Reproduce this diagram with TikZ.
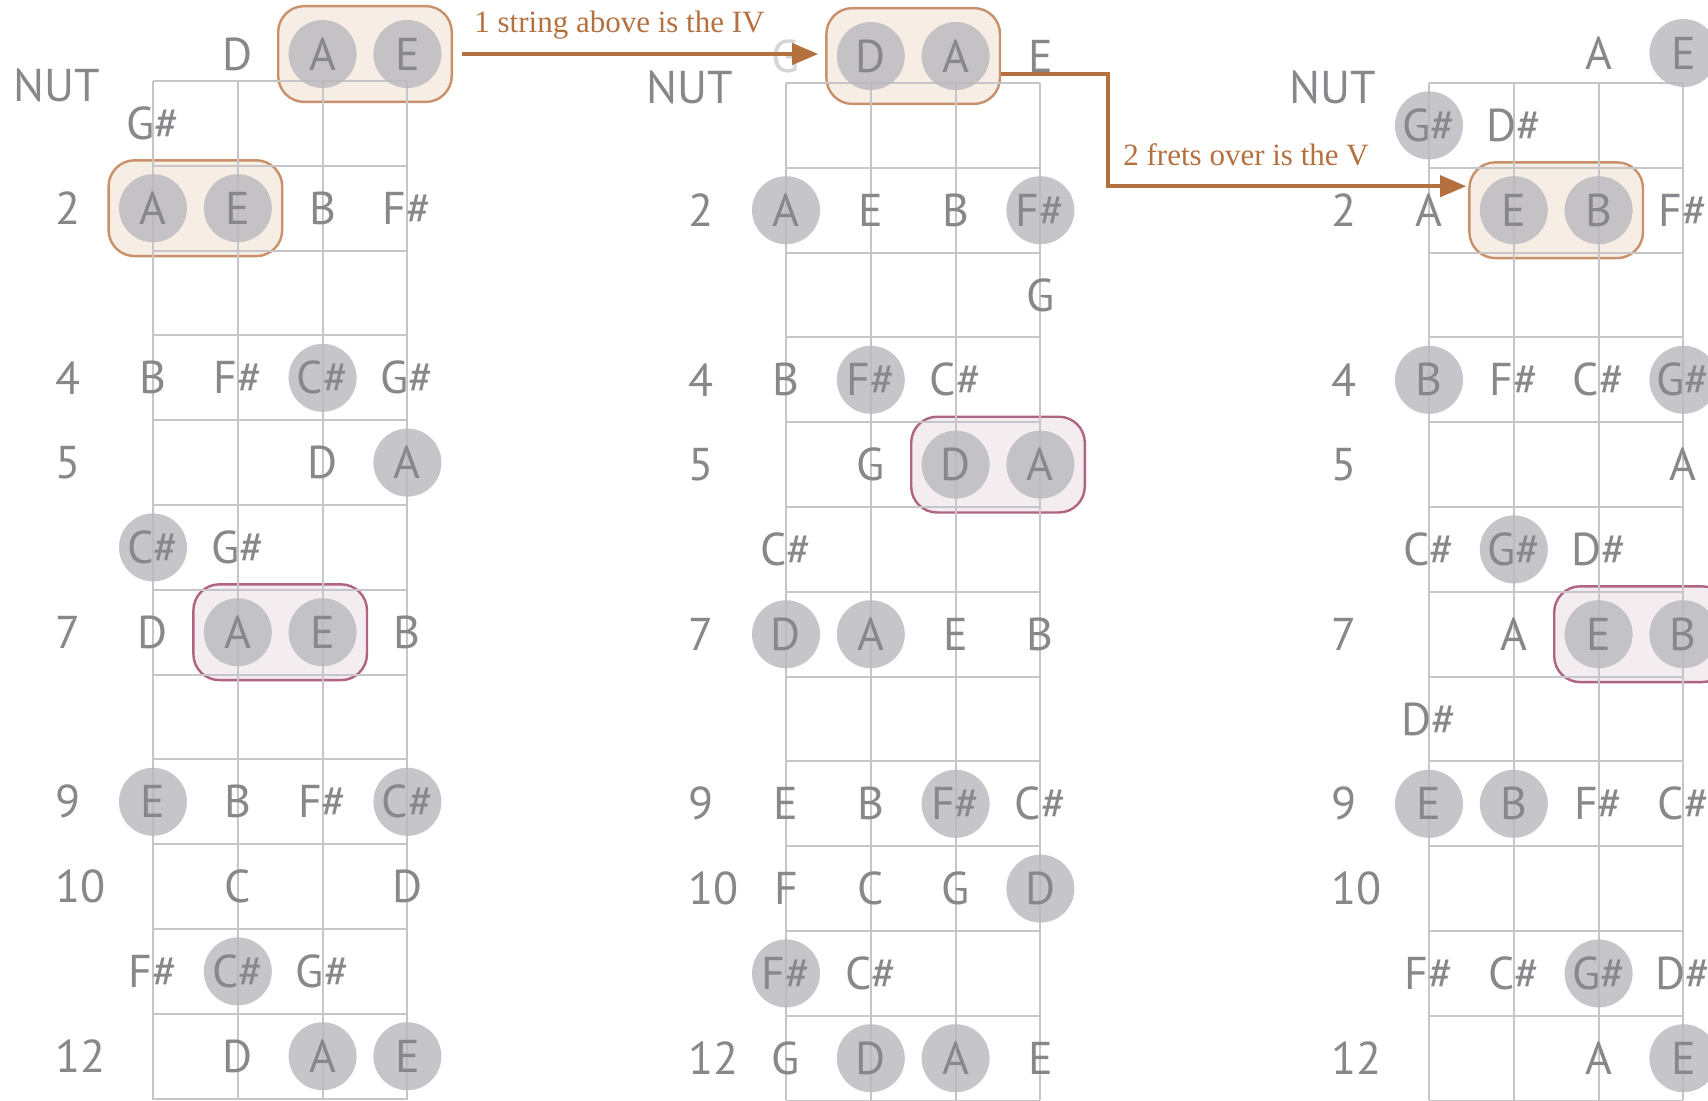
\documentclass[tikz,border=0pt]{standalone}
\usepackage{fontspec}
\newfontfamily\notefont{PT Sans}
\newfontfamily\hopfont{Liberation Serif}
\usetikzlibrary{arrows.meta, positioning, calc, fit, backgrounds}
\definecolor{fbInk}{HTML}{88888C}
\definecolor{fbDot}{HTML}{B8B8BD}
\definecolor{fbGrid}{HTML}{C6C6CA}
\definecolor{fbRust}{HTML}{B5703F}
\definecolor{fbTanLine}{HTML}{C8916B}
\definecolor{fbTanFill}{HTML}{F6EDE5}
\definecolor{fbPlumLine}{HTML}{AF6483}
\definecolor{fbPlumFill}{HTML}{F3EDEF}

\tikzset{
  fretline/.style={draw=fbGrid, line width=1pt},
  note/.style={circle, minimum size=34pt, inner sep=0pt, text=fbInk,
    font=\notefont\fontsize{23}{25}\selectfont},
  hit/.style={fill=fbDot, fill opacity=0.8, text opacity=1},
  nohit/.style={},
  ghost/.style={text=fbInk!35},
  fretnum/.style={anchor=west, inner sep=0pt, text=fbInk,
    font=\notefont\fontsize{23}{25}\selectfont},
  tanbox/.style={draw=fbTanLine, fill=fbTanFill, line width=1.2pt,
    rounded corners=13pt, inner xsep=5pt, inner ysep=6.75pt},
  plumbox/.style={tanbox, draw=fbPlumLine, fill=fbPlumFill},
  hop/.style={draw=fbRust, line width=2pt, -{Triangle[length=13pt, width=10.5pt]}},
  hoplabel/.style={anchor=base west, inner sep=0pt, text=fbRust,
    font=\hopfont\fontsize{15.5}{18}\selectfont}
}

\begin{document}
\begin{tikzpicture}[x=0.5pt, y=-0.5pt]
  \useasboundingbox (0,0) rectangle (1708,1100);
  \clip (0,0) rectangle (1708,1100);

  % fretboards: strings, frets, fret numbers
  \foreach \b/\xo/\yo in {L/153/81, M/786/83, R/1429/83} {
    \foreach \k in {0,...,12}
      \draw[fretline] (\xo, \yo+84.8*\k) -- (\xo+254.4, \yo+84.8*\k);
    \foreach \sg in {0,...,3}
      \draw[fretline] (\xo+84.8*\sg, \yo) -- (\xo+84.8*\sg, 1100);
    \node[fretnum] (\b-nut) at (\xo-140, \yo+4) {NUT};
    \foreach \fr in {2,4,5,7,9,10,12}
      \node[fretnum] (\b-fret\fr) at (\xo-98, \yo+84.8*\fr-42.4) {\fr};
  }

  % A major
  \foreach \sg/\fr/\nt/\st in {
      2/0/D/nohit, 3/0/A/hit, 4/0/E/hit, 1/1/G\#/nohit,
      1/2/A/hit, 2/2/E/hit, 3/2/B/nohit, 4/2/F\#/nohit,
      1/4/B/nohit, 2/4/F\#/nohit, 3/4/C\#/hit, 4/4/G\#/nohit,
      3/5/D/nohit, 4/5/A/hit, 1/6/C\#/hit, 2/6/G\#/nohit,
      1/7/D/nohit, 2/7/A/hit, 3/7/E/hit, 4/7/B/nohit,
      1/9/E/hit, 2/9/B/nohit, 3/9/F\#/nohit, 4/9/C\#/hit,
      2/10/C/nohit, 4/10/D/nohit,
      1/11/F\#/nohit, 2/11/C\#/hit, 3/11/G\#/nohit,
      2/12/D/nohit, 3/12/A/hit, 4/12/E/hit} {
    \pgfmathsetmacro\ny{\fr==0 ? 54 : 81+84.8*(\fr-0.5)}
    \node[note, \st] (L-\sg-\fr) at (68.2+84.8*\sg, \ny) {\nt};
  }

  % D major
  \foreach \sg/\fr/\nt/\st in {
      1/0/G/ghost, 2/0/D/hit, 3/0/A/hit, 4/0/E/nohit,
      1/2/A/hit, 2/2/E/nohit, 3/2/B/nohit, 4/2/F\#/hit, 4/3/G/nohit,
      1/4/B/nohit, 2/4/F\#/hit, 3/4/C\#/nohit,
      2/5/G/nohit, 3/5/D/hit, 4/5/A/hit, 1/6/C\#/nohit,
      1/7/D/hit, 2/7/A/hit, 3/7/E/nohit, 4/7/B/nohit,
      1/9/E/nohit, 2/9/B/nohit, 3/9/F\#/hit, 4/9/C\#/nohit,
      1/10/F/nohit, 2/10/C/nohit, 3/10/G/nohit, 4/10/D/hit,
      1/11/F\#/hit, 2/11/C\#/nohit,
      1/12/G/nohit, 2/12/D/hit, 3/12/A/hit, 4/12/E/nohit} {
    \pgfmathsetmacro\ny{\fr==0 ? 56 : 83+84.8*(\fr-0.5)}
    \node[note, \st] (M-\sg-\fr) at (701.2+84.8*\sg, \ny) {\nt};
  }

  % E major
  \foreach \sg/\fr/\nt/\st in {
      3/0/A/nohit, 4/0/E/hit, 1/1/G\#/hit, 2/1/D\#/nohit,
      1/2/A/nohit, 2/2/E/hit, 3/2/B/hit, 4/2/F\#/nohit,
      1/4/B/hit, 2/4/F\#/nohit, 3/4/C\#/nohit, 4/4/G\#/hit, 4/5/A/nohit,
      1/6/C\#/nohit, 2/6/G\#/hit, 3/6/D\#/nohit,
      2/7/A/nohit, 3/7/E/hit, 4/7/B/hit, 1/8/D\#/nohit,
      1/9/E/hit, 2/9/B/hit, 3/9/F\#/nohit, 4/9/C\#/nohit,
      1/11/F\#/nohit, 2/11/C\#/nohit, 3/11/G\#/hit, 4/11/D\#/nohit,
      3/12/A/nohit, 4/12/E/hit} {
    \pgfmathsetmacro\ny{\fr==0 ? 53 : 83+84.8*(\fr-0.5)}
    \node[note, \st] (R-\sg-\fr) at (1344.2+84.8*\sg, \ny) {\nt};
  }

  % shapes that repeat up a string / over a fret
  \begin{scope}[on background layer]
    \clip (0,0) rectangle (1708,1100);
    \node[tanbox, fit=(L-3-0)(L-4-0)] (L-open) {};
    \node[tanbox, fit=(L-1-2)(L-2-2)] (L-two) {};
    \node[plumbox, fit=(L-2-7)(L-3-7)] (L-seven) {};
    \node[tanbox, fit=(M-2-0)(M-3-0)] (M-open) {};
    \node[plumbox, fit=(M-3-5)(M-4-5)] (M-five) {};
    \node[tanbox, fit=(R-2-2)(R-3-2)] (R-two) {};
    \node[plumbox, fit=(R-3-7)(R-4-7)] (R-seven) {};
  \end{scope}

  \draw[hop] ([xshift=4.5pt]L-open.east) -- ($(M-open.west |- L-open.east)+(-7,0)$);
  \node[hoplabel] (iv-label) at (474, 32) {1 string above is the IV};
  \draw[hop] ($(M-open.east)+(0,18)$) -- ++(107,0) |- ($(R-two.west)+(-2,-24)$);
  \node[hoplabel] (v-label) at (1123, 165) {2 frets over is the V};
\end{tikzpicture}
\end{document}
